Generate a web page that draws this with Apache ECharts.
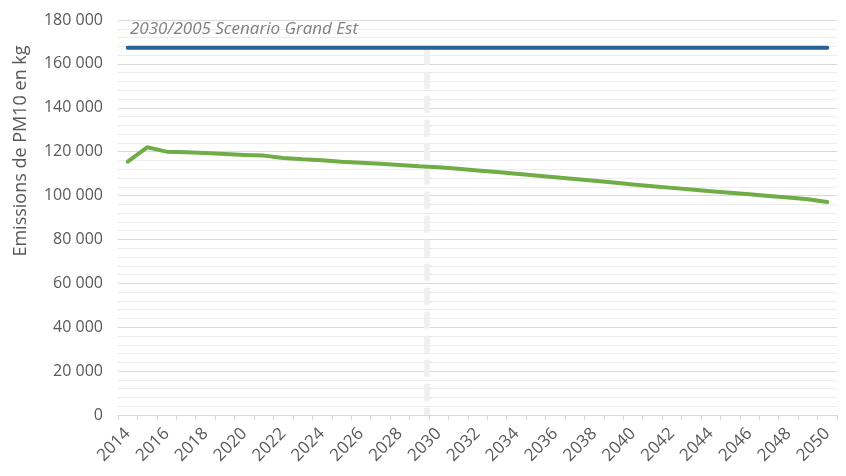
<!DOCTYPE html>
<html>
<head>
<meta charset="utf-8">
<script src="https://cdn.jsdelivr.net/npm/echarts@6/dist/echarts.min.js"></script>
<style>
  html, body { margin: 0; padding: 0; background: #ffffff; }
  #chart { width: 846px; height: 476px; }
</style>
</head>
<body>
<div id="chart"></div>
<script>
// Years on the horizontal axis
const years = [
  '2014', '2015', '2016', '2017', '2018', '2019', '2020', '2021', '2022', '2023',
  '2024', '2025', '2026', '2027', '2028', '2029', '2030', '2031', '2032', '2033',
  '2034', '2035', '2036', '2037', '2038', '2039', '2040', '2041', '2042', '2043',
  '2044', '2045', '2046', '2047', '2048', '2049', '2050'
];

// PM10 emissions trajectory (kg)
const emissions = [
  115500, 122000, 120000, 119700, 119400, 118900, 118500, 118200, 117100, 116500,
  116100, 115400, 115000, 114500, 113900, 113300, 112900, 112200, 111450, 110700,
  109900, 109100, 108300, 107500, 106700, 106000, 105000, 104250, 103500, 102800,
  102000, 101300, 100600, 99800, 99100, 98300, 97100
];

// 2030/2005 regional scenario target (kg)
const scenarioTarget = 167400;
const scenarioLabel = '2030/2005 Scenario Grand Est';
const yTitle = 'Emissions de PM10 en kg';

// Vertical marker for the 2030 horizon (position on the year scale)
const horizonYear = 2029.4;

const yMin = 0, yMax = 180000, yStep = 20000;

const fmt = v => String(v).replace(/\B(?=(\d{3})+(?!\d))/g, ' ');

const chart = echarts.init(document.getElementById('chart'), null, { renderer: 'canvas' });

const font = '"Open Sans", "Noto Sans", sans-serif';

chart.setOption({
  animation: false,
  backgroundColor: '#ffffff',
  grid: { left: 118, right: 9, top: 20, bottom: 61, containLabel: false },
  xAxis: [
    {
      type: 'category',
      data: years,
      boundaryGap: true,
      axisLine: { show: true, lineStyle: { color: '#d9d9d9', width: 1 } },
      axisTick: { show: true, interval: 0, length: 5, lineStyle: { color: '#d9d9d9' } },
      axisLabel: {
        interval: 1,
        rotate: 45,
        margin: 16,
        color: '#595959',
        fontFamily: font,
        fontSize: 17
      },
      splitLine: { show: false }
    },
    {
      type: 'value',
      min: 2013.5,
      max: 2050.5,
      show: false
    }
  ],
  yAxis: {
    type: 'value',
    min: yMin,
    max: yMax,
    interval: yStep,
    axisLine: { show: false },
    axisTick: { show: false },
    axisLabel: {
      margin: 15,
      color: '#595959',
      fontFamily: font,
      fontSize: 16,
      formatter: fmt
    },
    splitLine: { show: true, lineStyle: { color: '#d9d9d9', width: 1 } },
    minorTick: { show: false, splitNumber: 5 },
    minorSplitLine: { show: true, lineStyle: { color: '#ececec', width: 1 } }
  },
  series: [
    {
      name: 'horizon',
      type: 'line',
      xAxisIndex: 1,
      data: [[horizonYear, scenarioTarget], [horizonYear, 0]],
      showSymbol: false,
      symbol: 'none',
      silent: true,
      z: 1,
      lineStyle: { color: '#f0f0f0', width: 6, type: [17, 7], cap: 'butt' }
    },
    {
      name: scenarioLabel,
      type: 'line',
      data: years.map(() => scenarioTarget),
      showSymbol: false,
      symbol: 'none',
      z: 3,
      lineStyle: { color: '#2a6195', width: 4, cap: 'round' }
    },
    {
      name: 'Emissions PM10',
      type: 'line',
      data: emissions,
      showSymbol: false,
      symbol: 'none',
      z: 4,
      lineStyle: { color: '#70ad47', width: 4, cap: 'round', join: 'round' }
    }
  ],
  graphic: [
    {
      type: 'text',
      left: 130,
      top: 21,
      z: 100,
      style: {
        text: scenarioLabel,
        fill: '#7f7f7f',
        fontStyle: 'italic',
        fontSize: 17,
        fontFamily: font
      }
    },
    {
      type: 'text',
      x: 21,
      y: 151,
      rotation: Math.PI / 2,
      z: 100,
      style: {
        text: yTitle,
        fill: '#595959',
        fontSize: 18,
        fontFamily: font,
        align: 'center',
        verticalAlign: 'middle'
      }
    }
  ]
});
</script>
</body>
</html>
